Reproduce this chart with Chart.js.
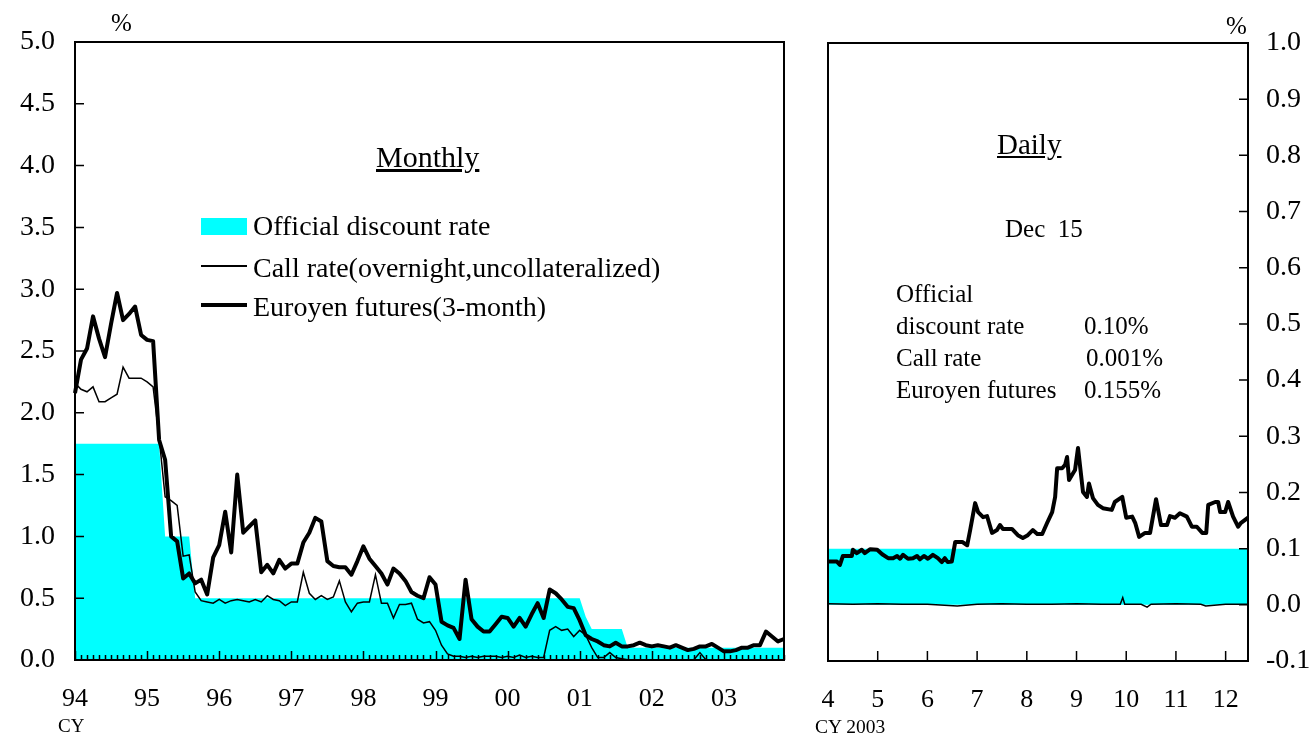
<!DOCTYPE html>
<html>
<head>
<meta charset="utf-8">
<script src="https://cdn.jsdelivr.net/npm/chart.js@4.4.1/dist/chart.umd.min.js"></script>
<style>
  body { margin: 0; background: #fff; font-family: "Liberation Serif", "Times New Roman", serif; }
  #page { position: relative; width: 1312px; height: 738px; overflow: hidden; }
  .box { position: absolute; top: 0; height: 738px; }
  .t { position: absolute; white-space: pre; color: #000; line-height: 1; }
  .sw { position: absolute; }
</style>
</head>
<body>
<div id="page">
  <div class="box" style="left:0;width:800px"><canvas id="monthly"></canvas></div>
  <div class="box" style="left:800px;width:512px"><canvas id="daily"></canvas></div>

  <div class="t" style="left:111px;top:10px;font-size:25px">%</div>
  <div class="t" style="left:1226px;top:13px;font-size:25px">%</div>

  <div class="t" style="left:376px;top:142px;font-size:30px;text-decoration:underline">Monthly</div>
  <div class="sw" style="left:201px;top:218px;width:46px;height:17px;background:#00ffff"></div>
  <div class="t" style="left:253px;top:212px;font-size:28px">Official discount rate</div>
  <div class="sw" style="left:201px;top:265px;width:46px;height:2px;background:#000"></div>
  <div class="t" style="left:253px;top:254px;font-size:28px">Call rate(overnight,uncollateralized)</div>
  <div class="sw" style="left:201px;top:303px;width:46px;height:4px;background:#000"></div>
  <div class="t" style="left:253px;top:293px;font-size:28px">Euroyen futures(3-month)</div>

  <div class="t" style="left:997px;top:130px;font-size:29px;text-decoration:underline">Daily</div>
  <div class="t" style="left:1005px;top:216px;font-size:25px">Dec  15</div>
  <div class="t" style="left:896px;top:281px;font-size:25px">Official</div>
  <div class="t" style="left:896px;top:313px;font-size:25px">discount rate</div>
  <div class="t" style="left:1084px;top:313px;font-size:25px">0.10%</div>
  <div class="t" style="left:896px;top:345px;font-size:25px">Call rate</div>
  <div class="t" style="left:1086px;top:345px;font-size:25px">0.001%</div>
  <div class="t" style="left:896px;top:377px;font-size:25px">Euroyen futures</div>
  <div class="t" style="left:1084px;top:377px;font-size:25px">0.155%</div>

  <div class="t" style="left:58px;top:716px;font-size:19px">CY</div>
  <div class="t" style="left:815px;top:717px;font-size:19.5px">CY 2003</div>
</div>

<script>
// ---- monthly data, Jan 1994 .. Nov 2003 ----
const monthLabels = [];
for (let yr = 1994; yr <= 2003; yr++) {
  for (let mo = 1; mo <= 12; mo++) {
    if (yr === 2003 && mo > 11) break;
    monthLabels.push(yr + '-' + String(mo).padStart(2, '0'));
  }
}

const discountMonthly = [
  1.75, 1.75, 1.75, 1.75, 1.75, 1.75, 1.75, 1.75, 1.75, 1.75, 1.75, 1.75,
  1.75, 1.75, 1.75, 1.00, 1.00, 1.00, 1.00, 1.00, 0.50, 0.50, 0.50, 0.50,
  0.50, 0.50, 0.50, 0.50, 0.50, 0.50, 0.50, 0.50, 0.50, 0.50, 0.50, 0.50,
  0.50, 0.50, 0.50, 0.50, 0.50, 0.50, 0.50, 0.50, 0.50, 0.50, 0.50, 0.50,
  0.50, 0.50, 0.50, 0.50, 0.50, 0.50, 0.50, 0.50, 0.50, 0.50, 0.50, 0.50,
  0.50, 0.50, 0.50, 0.50, 0.50, 0.50, 0.50, 0.50, 0.50, 0.50, 0.50, 0.50,
  0.50, 0.50, 0.50, 0.50, 0.50, 0.50, 0.50, 0.50, 0.50, 0.50, 0.50, 0.50,
  0.50, 0.35, 0.25, 0.25, 0.25, 0.25, 0.25, 0.25, 0.10, 0.10, 0.10, 0.10,
  0.10, 0.10, 0.10, 0.10, 0.10, 0.10, 0.10, 0.10, 0.10, 0.10, 0.10, 0.10,
  0.10, 0.10, 0.10, 0.10, 0.10, 0.10, 0.10, 0.10, 0.10, 0.10, 0.10
];

const callMonthly = [
  2.24, 2.19, 2.17, 2.21, 2.09, 2.09, 2.12, 2.15, 2.37, 2.28, 2.28, 2.28,
  2.25, 2.21, 1.80, 1.32, 1.29, 1.25, 0.84, 0.85, 0.55, 0.48, 0.47, 0.46,
  0.49, 0.46, 0.48, 0.49, 0.48, 0.47, 0.49, 0.47, 0.52, 0.49, 0.48, 0.44,
  0.47, 0.47, 0.71, 0.54, 0.49, 0.52, 0.49, 0.51, 0.64, 0.47, 0.39, 0.46,
  0.47, 0.47, 0.69, 0.46, 0.46, 0.34, 0.45, 0.45, 0.46, 0.33, 0.30, 0.31,
  0.24, 0.12, 0.05, 0.03, 0.03, 0.02, 0.03, 0.02, 0.03, 0.03, 0.03, 0.02,
  0.03, 0.02, 0.04, 0.02, 0.03, 0.02, 0.02, 0.24, 0.27, 0.24, 0.25, 0.19,
  0.24, 0.20, 0.10, 0.02, 0.02, 0.06, 0.02, 0.01, 0.002, 0.002, 0.002, 0.002,
  0.002, 0.002, 0.002, 0.002, 0.002, 0.002, 0.002, 0.002, 0.06, 0.002, 0.002, 0.002,
  0.001, 0.001, 0.001, 0.001, 0.001, 0.001, 0.001, 0.001, 0.001, 0.001, 0.001
];

const euroyenMonthly = [
  2.16, 2.43, 2.52, 2.78, 2.60, 2.45, 2.72, 2.97, 2.75, 2.80, 2.86, 2.63,
  2.59, 2.58, 1.78, 1.62, 1.00, 0.96, 0.66, 0.70, 0.62, 0.65, 0.53, 0.83,
  0.93, 1.20, 0.87, 1.50, 1.03, 1.08, 1.13, 0.71, 0.77, 0.70, 0.81, 0.74,
  0.78, 0.78, 0.95, 1.03, 1.15, 1.12, 0.80, 0.76, 0.75, 0.75, 0.69, 0.80,
  0.92, 0.82, 0.76, 0.70, 0.61, 0.74, 0.70, 0.64, 0.55, 0.52, 0.50, 0.67,
  0.61, 0.31, 0.28, 0.26, 0.17, 0.65, 0.33, 0.27, 0.23, 0.23, 0.29, 0.35,
  0.34, 0.27, 0.34, 0.27, 0.37, 0.46, 0.34, 0.57, 0.54, 0.49, 0.43, 0.42,
  0.32, 0.20, 0.17, 0.15, 0.12, 0.11, 0.14, 0.11, 0.11, 0.12, 0.14, 0.12,
  0.11, 0.12, 0.11, 0.10, 0.12, 0.10, 0.08, 0.09, 0.11, 0.11, 0.13, 0.10,
  0.07, 0.07, 0.08, 0.10, 0.10, 0.12, 0.12, 0.23, 0.19, 0.15, 0.17
];

// ---- daily data, 2003 (x = month + fraction of month) ----
const dailyDates = [
  4.00, 4.18, 4.24, 4.30, 4.48, 4.50, 4.58, 4.68, 4.74, 4.85, 4.99, 5.09, 5.21, 5.31, 5.39,
  5.45, 5.51, 5.61, 5.71, 5.79, 5.85, 5.93, 6.01, 6.11, 6.21, 6.29, 6.35, 6.41, 6.49, 6.56,
  6.70, 6.80, 6.86, 6.96, 7.02, 7.12, 7.20, 7.30, 7.40, 7.46, 7.52, 7.70, 7.82, 7.92, 8.02,
  8.12, 8.21, 8.31, 8.41, 8.51, 8.57, 8.61, 8.71, 8.77, 8.81, 8.85, 8.93, 8.97, 9.03, 9.13,
  9.21, 9.25, 9.33, 9.43, 9.53, 9.71, 9.77, 9.92, 10.00, 10.12, 10.18, 10.26, 10.38, 10.48, 10.60,
  10.70, 10.82, 10.88, 10.98, 11.08, 11.22, 11.32, 11.42, 11.53, 11.61, 11.65, 11.79, 11.85, 11.89, 11.99,
  12.05, 12.15, 12.25, 12.31, 12.45
];
const euroyenDaily = [
  0.077, 0.077, 0.071, 0.087, 0.087, 0.098, 0.092, 0.098, 0.092, 0.099, 0.098, 0.090, 0.083, 0.083, 0.087,
  0.082, 0.089, 0.082, 0.083, 0.087, 0.081, 0.087, 0.082, 0.089, 0.083, 0.076, 0.083, 0.076, 0.077, 0.112,
  0.112, 0.106, 0.133, 0.181, 0.165, 0.156, 0.158, 0.128, 0.133, 0.142, 0.135, 0.135, 0.124, 0.119, 0.124,
  0.133, 0.126, 0.126, 0.146, 0.165, 0.192, 0.243, 0.243, 0.249, 0.263, 0.222, 0.234, 0.240, 0.279, 0.201,
  0.192, 0.216, 0.190, 0.178, 0.172, 0.169, 0.183, 0.192, 0.155, 0.157, 0.146, 0.121, 0.128, 0.128, 0.188,
  0.142, 0.142, 0.158, 0.155, 0.163, 0.157, 0.139, 0.139, 0.128, 0.128, 0.178, 0.183, 0.183, 0.165, 0.165,
  0.183, 0.157, 0.139, 0.146, 0.155
];

const callDates = [4.0, 4.5, 5.0, 5.5, 6.0, 6.6, 7.0, 7.5, 8.0, 8.5, 9.0, 9.5, 9.88, 9.93, 9.97,
  10.3, 10.42, 10.5, 11.0, 11.5, 11.6, 12.0, 12.45];
const callDaily = [0.002, 0.001, 0.002, 0.001, 0.001, -0.002, 0.001, 0.002, 0.001, 0.001, 0.002, 0.001, 0.001, 0.013, 0.001,
  0.001, -0.004, 0.001, 0.002, 0.001, -0.002, 0.001, 0.001];

const discountDates = [4.0, 12.45];
const discountDaily = [0.10, 0.10];

const dailyMonthTicks = [4, 5, 6, 7, 8, 9, 10, 11, 12];

const FONT = '"Liberation Serif", "Times New Roman", serif';
const CYAN = '#00ffff';

// frame + inward tick marks
const monthlyFrame = {
  id: 'monthlyFrame',
  afterDatasetsDraw(chart) {
    const { ctx, chartArea: a, scales: { x, y } } = chart;
    ctx.save();
    ctx.strokeStyle = '#000';
    ctx.lineWidth = 1.5;
    ctx.beginPath();
    monthLabels.forEach((m, i) => {
      const px = Math.round(x.getPixelForValue(i)) + 0.5;
      const len = m.endsWith('-01') ? 9 : 5;
      ctx.moveTo(px, a.bottom);
      ctx.lineTo(px, a.bottom - len);
    });
    y.ticks.forEach(t => {
      const py = y.getPixelForValue(t.value);
      ctx.moveTo(a.left, py);
      ctx.lineTo(a.left + 9, py);
    });
    ctx.stroke();
    ctx.lineWidth = 2;
    ctx.strokeRect(a.left, a.top, a.width, a.height);
    ctx.restore();
  }
};

const dailyFrame = {
  id: 'dailyFrame',
  afterDatasetsDraw(chart) {
    const { ctx, chartArea: a, scales: { x, y } } = chart;
    ctx.save();
    ctx.strokeStyle = '#000';
    ctx.lineWidth = 1.5;
    ctx.beginPath();
    dailyMonthTicks.forEach(v => {
      const px = x.getPixelForValue(v);
      ctx.moveTo(px, a.bottom);
      ctx.lineTo(px, a.bottom - 10);
    });
    y.ticks.forEach(t => {
      const py = y.getPixelForValue(t.value);
      ctx.moveTo(a.right, py);
      ctx.lineTo(a.right - 9, py);
    });
    ctx.stroke();
    ctx.lineWidth = 2;
    ctx.strokeRect(a.left, a.top, a.width, a.height);
    ctx.restore();
  }
};

const xFont = { family: FONT, size: 26 };
const yFont = { family: FONT, size: 28 };

const monthlyChart = new Chart(document.getElementById('monthly'), {
  type: 'line',
  data: {
    labels: monthLabels,
    datasets: [
      { label: 'Euroyen futures(3-month)', data: euroyenMonthly, borderColor: '#000', borderWidth: 4,
        pointRadius: 0, tension: 0, fill: false, borderJoinStyle: 'round' },
      { label: 'Call rate(overnight,uncollateralized)', data: callMonthly, borderColor: '#000', borderWidth: 1.5,
        pointRadius: 0, tension: 0, fill: false },
      { label: 'Official discount rate', data: discountMonthly, borderColor: 'rgba(0,0,0,0)', borderWidth: 0,
        backgroundColor: CYAN, pointRadius: 0, tension: 0, fill: 'origin' }
    ]
  },
  options: {
    responsive: true,
    maintainAspectRatio: false,
    animation: false,
    devicePixelRatio: 1,
    layout: { padding: { top: 42, right: 16, left: 0, bottom: 0 } },
    plugins: { legend: { display: false }, tooltip: { enabled: false } },
    scales: {
      x: {
        type: 'category',
        offset: false,
        grid: { display: false, drawTicks: false },
        border: { display: false },
        ticks: {
          autoSkip: false, maxRotation: 0, minRotation: 0, padding: 24, color: '#000', font: xFont,
          callback: (v, i) => monthLabels[i].endsWith('-01') ? monthLabels[i].slice(2, 4) : null
        },
        afterFit: s => { s.height = 78; s.paddingLeft = 0; s.paddingRight = 0; }
      },
      y: {
        min: 0, max: 5,
        grid: { display: false, drawTicks: false },
        border: { display: false },
        ticks: { stepSize: 0.5, padding: 20, color: '#000', font: yFont, callback: v => v.toFixed(1) },
        afterFit: s => { s.width = 75; }
      }
    }
  },
  plugins: [monthlyFrame]
});

const dailyChart = new Chart(document.getElementById('daily'), {
  type: 'line',
  data: {
    datasets: [
      { label: 'Euroyen futures', data: dailyDates.map((d, i) => ({ x: d, y: euroyenDaily[i] })),
        borderColor: '#000', borderWidth: 4, pointRadius: 0, tension: 0, fill: false, borderJoinStyle: 'round' },
      { label: 'Call rate', data: callDates.map((d, i) => ({ x: d, y: callDaily[i] })),
        borderColor: '#000', borderWidth: 1.5, pointRadius: 0, tension: 0, fill: false },
      { label: 'Official discount rate', data: discountDates.map((d, i) => ({ x: d, y: discountDaily[i] })),
        borderColor: 'rgba(0,0,0,0)', borderWidth: 0, backgroundColor: CYAN, pointRadius: 0, fill: 'origin' }
    ]
  },
  options: {
    responsive: true,
    maintainAspectRatio: false,
    animation: false,
    devicePixelRatio: 1,
    layout: { padding: { top: 43, right: 0, left: 28, bottom: 0 } },
    plugins: { legend: { display: false }, tooltip: { enabled: false } },
    scales: {
      x: {
        type: 'linear', min: 4, max: 12.45,
        grid: { display: false, drawTicks: false },
        border: { display: false },
        afterBuildTicks: s => { s.ticks = dailyMonthTicks.map(v => ({ value: v })); },
        ticks: { maxRotation: 0, padding: 24, color: '#000', font: xFont, callback: v => String(v) },
        afterFit: s => { s.height = 77; s.paddingLeft = 0; s.paddingRight = 0; }
      },
      y: {
        position: 'right', min: -0.1, max: 1.0,
        grid: { display: false, drawTicks: false },
        border: { display: false },
        ticks: { stepSize: 0.1, padding: 18, color: '#000', font: yFont,
          callback: v => (Math.round(v * 10) / 10).toFixed(1) },
        afterFit: s => { s.width = 64; }
      }
    }
  },
  plugins: [dailyFrame]
});
</script>
</body>
</html>
